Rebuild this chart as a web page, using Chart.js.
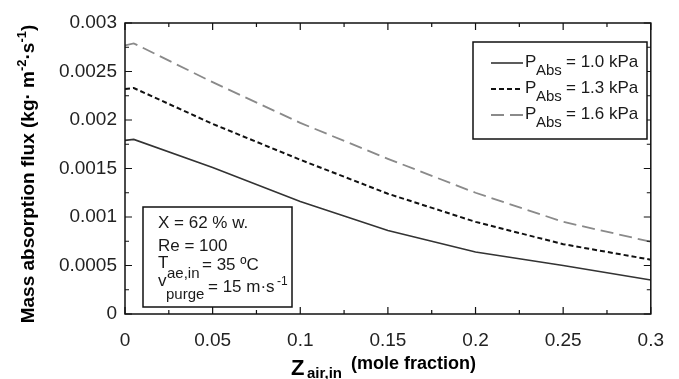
<!DOCTYPE html>
<html>
<head>
<meta charset="utf-8">
<script src="https://cdn.jsdelivr.net/npm/chart.js@4.4.0/dist/chart.umd.min.js"></script>
<style>
  html, body { margin: 0; padding: 0; background: #ffffff; }
  #wrap { width: 679px; height: 379px; }
</style>
</head>
<body>
<div id="wrap"><canvas id="c" width="679" height="379"></canvas></div>
<script>
// ---- data ----
const zAir = [0, 0.005, 0.05, 0.1, 0.15, 0.2, 0.25, 0.3];
const flux10 = [0.00179, 0.0018, 0.00151, 0.00116, 0.00086, 0.00064, 0.0005, 0.00035];
const flux13 = [0.00232, 0.00233, 0.00196, 0.00159, 0.00124, 0.00095, 0.00072, 0.00056];
const flux16 = [0.00277, 0.00279, 0.00239, 0.00197, 0.0016, 0.00125, 0.00095, 0.000745];
const seriesNames = ['= 1.0 kPa', '= 1.3 kPa', '= 1.6 kPa'];
const xTickLabels = ['0', '0.05', '0.1', '0.15', '0.2', '0.25', '0.3'];
const xTickValues = [0, 0.05, 0.1, 0.15, 0.2, 0.25, 0.3];
const yTickLabels = ['0', '0.0005', '0.001', '0.0015', '0.002', '0.0025', '0.003'];
const yTickValues = [0, 0.0005, 0.001, 0.0015, 0.002, 0.0025, 0.003];
const infoLines = ['X = 62 % w.', 'Re = 100'];

const FONT = '"Liberation Sans", Arial, Helvetica, sans-serif';
const styles = [
  { color: '#333333', width: 1.6, dash: [] },
  { color: '#111111', width: 2.0, dash: [5, 3] },
  { color: '#8a8a8a', width: 1.8, dash: [13, 6] }
];
const allSeries = [flux10, flux13, flux16];

function pts(ys) { return zAir.map((x, i) => ({ x: x, y: ys[i] })); }

const decorPlugin = {
  id: 'decor',
  afterDraw(chart) {
    const ctx = chart.ctx;
    const a = chart.chartArea;
    const xs = chart.scales.x, ys = chart.scales.y;
    ctx.save();
    ctx.textBaseline = 'alphabetic';
    ctx.textAlign = 'left';
    // frame
    ctx.strokeStyle = '#111';
    ctx.lineWidth = 1.5;
    ctx.setLineDash([]);
    ctx.strokeRect(a.left, a.top, a.right - a.left, a.bottom - a.top);
    // ticks
    ctx.lineWidth = 1.2;
    ctx.beginPath();
    for (let i = 0; i < xTickValues.length; i++) {
      const px = xs.getPixelForValue(xTickValues[i]);
      ctx.moveTo(px, a.bottom); ctx.lineTo(px, a.bottom - 7);
      ctx.moveTo(px, a.top); ctx.lineTo(px, a.top + 7);
      if (i < xTickValues.length - 1) {
        const pm = xs.getPixelForValue((xTickValues[i] + xTickValues[i + 1]) / 2);
        ctx.moveTo(pm, a.bottom); ctx.lineTo(pm, a.bottom - 4);
        ctx.moveTo(pm, a.top); ctx.lineTo(pm, a.top + 4);
      }
    }
    for (let i = 0; i < yTickValues.length; i++) {
      const py = ys.getPixelForValue(yTickValues[i]);
      ctx.moveTo(a.left, py); ctx.lineTo(a.left + 7, py);
      ctx.moveTo(a.right, py); ctx.lineTo(a.right - 7, py);
      if (i < yTickValues.length - 1) {
        const pm = ys.getPixelForValue((yTickValues[i] + yTickValues[i + 1]) / 2);
        ctx.moveTo(a.left, pm); ctx.lineTo(a.left + 4, pm);
        ctx.moveTo(a.right, pm); ctx.lineTo(a.right - 4, pm);
      }
    }
    ctx.stroke();

    // legend box
    ctx.fillStyle = '#fff';
    ctx.fillRect(473, 42, 174, 97);
    ctx.strokeStyle = '#111';
    ctx.lineWidth = 1.5;
    ctx.strokeRect(473, 42, 174, 97);
    const rowY = [63, 89, 115];
    for (let i = 0; i < 3; i++) {
      const st = styles[i];
      ctx.strokeStyle = st.color;
      ctx.lineWidth = st.width;
      ctx.setLineDash(st.dash);
      ctx.beginPath();
      ctx.moveTo(491, rowY[i]); ctx.lineTo(523, rowY[i]);
      ctx.stroke();
      ctx.setLineDash([]);
      ctx.fillStyle = '#1a1a1a';
      ctx.font = '17px ' + FONT;
      ctx.fillText('P', 525, rowY[i] + 4);
      ctx.font = '15px ' + FONT;
      ctx.fillText('Abs', 536, rowY[i] + 12);
      ctx.font = '17px ' + FONT;
      ctx.fillText(seriesNames[i], 566, rowY[i] + 4);
    }

    // info box
    ctx.fillStyle = '#fff';
    ctx.fillRect(143, 207, 149, 100);
    ctx.strokeStyle = '#111';
    ctx.lineWidth = 1.5;
    ctx.strokeRect(143, 207, 149, 100);
    ctx.fillStyle = '#1a1a1a';
    ctx.font = '17px ' + FONT;
    ctx.fillText(infoLines[0], 158, 228);
    ctx.fillText(infoLines[1], 158, 251);
    ctx.fillText('T', 158, 268);
    ctx.font = '15px ' + FONT;
    ctx.fillText('ae,in', 167, 278);
    ctx.font = '17px ' + FONT;
    ctx.fillText('= 35 \u00baC', 202, 270);
    ctx.fillText('v', 158, 286);
    ctx.font = '15px ' + FONT;
    ctx.fillText('purge', 166, 299);
    ctx.font = '17px ' + FONT;
    ctx.fillText('= 15 m\u00b7s', 208, 292);
    ctx.font = '12px ' + FONT;
    ctx.fillText('-1', 277, 285);

    // x-axis title
    ctx.fillStyle = '#000';
    ctx.font = 'bold 22px ' + FONT;
    ctx.fillText('Z', 291, 375);
    ctx.font = 'bold 15px ' + FONT;
    ctx.fillText('air,in', 307, 378);
    ctx.font = 'bold 18px ' + FONT;
    ctx.fillText('(mole fraction)', 351, 369);

    // y-axis title (rotated)
    ctx.save();
    ctx.translate(34, 174);
    ctx.rotate(-Math.PI / 2);
    const main = 'bold 19px ' + FONT, sup = 'bold 13px ' + FONT;
    const parts = [
      ['Mass absorption flux (kg\u00b7 m', main, 0],
      ['-2', sup, -8],
      ['\u00b7s', main, 0],
      ['-1', sup, -8],
      [')', main, 0]
    ];
    let total = 0;
    parts.forEach(p => { ctx.font = p[1]; total += ctx.measureText(p[0]).width; });
    let cx = -total / 2;
    parts.forEach(p => { ctx.font = p[1]; ctx.fillText(p[0], cx, p[2]); cx += ctx.measureText(p[0]).width; });
    ctx.restore();

    ctx.restore();
  }
};

new Chart(document.getElementById('c'), {
  type: 'line',
  data: {
    datasets: allSeries.map((s, i) => ({
      label: seriesNames[i],
      data: pts(s),
      borderColor: styles[i].color,
      borderWidth: styles[i].width,
      borderDash: styles[i].dash,
      pointRadius: 0,
      tension: 0,
      fill: false
    }))
  },
  options: {
    responsive: false,
    devicePixelRatio: 1,
    animation: false,
    layout: { padding: { top: 23, right: 19, left: 0, bottom: 0 } },
    plugins: { legend: { display: false }, tooltip: { enabled: false } },
    scales: {
      x: {
        type: 'linear', min: 0, max: 0.3,
        afterBuildTicks: (sc) => { sc.ticks = xTickValues.map(v => ({ value: v })); },
        afterFit: (sc) => { sc.height = 65; },
        ticks: {
          callback: (v, i) => xTickLabels[i],
          font: { size: 19, family: FONT }, color: '#222', padding: 15, maxRotation: 0, autoSkip: false
        },
        grid: { display: false, drawTicks: false },
        border: { display: false }
      },
      y: {
        type: 'linear', min: 0, max: 0.003,
        afterBuildTicks: (sc) => { sc.ticks = yTickValues.map(v => ({ value: v })); },
        afterFit: (sc) => { sc.width = 125; },
        ticks: {
          callback: (v, i) => yTickLabels[i],
          font: { size: 19, family: FONT }, color: '#222', padding: 8, autoSkip: false
        },
        grid: { display: false, drawTicks: false },
        border: { display: false }
      }
    }
  },
  plugins: [decorPlugin]
});
</script>
</body>
</html>
